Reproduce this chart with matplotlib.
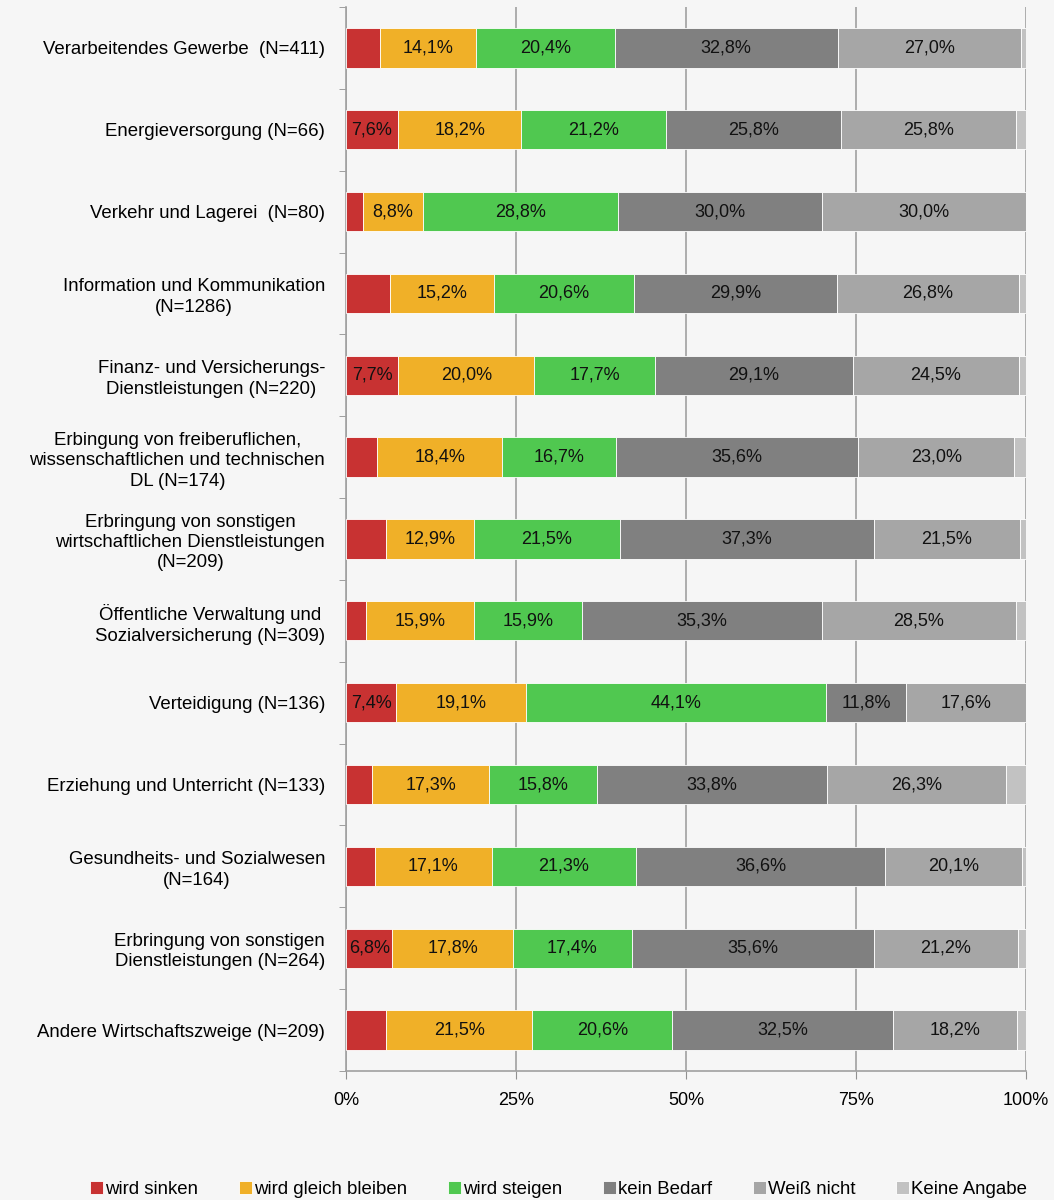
import numpy as np
import matplotlib
matplotlib.use('Agg')
from matplotlib import pyplot as plt
from matplotlib.ticker import FixedLocator

plt.rcParams['font.family'] = ['Liberation Sans', 'DejaVu Sans']

categories = [
    'Verarbeitendes Gewerbe  (N=411)',
    'Energieversorgung (N=66)',
    'Verkehr und Lagerei  (N=80)',
    'Information und Kommunikation\n(N=1286)',
    'Finanz- und Versicherungs-\nDienstleistungen (N=220)',
    'Erbingung von freiberuflichen,\nwissenschaftlichen und technischen\nDL (N=174)',
    'Erbringung von sonstigen\nwirtschaftlichen Dienstleistungen\n(N=209)',
    'Öffentliche Verwaltung und\nSozialversicherung (N=309)',
    'Verteidigung (N=136)',
    'Erziehung und Unterricht (N=133)',
    'Gesundheits- und Sozialwesen\n(N=164)',
    'Erbringung von sonstigen\nDienstleistungen (N=264)',
    'Andere Wirtschaftszweige (N=209)',
]

series = ['wird sinken', 'wird gleich bleiben', 'wird steigen',
          'kein Bedarf', 'Weiß nicht', 'Keine Angabe']

wird_sinken = [5.0, 7.6, 2.5, 6.5, 7.7, 4.6, 5.9, 2.9, 7.4, 3.8, 4.3, 6.8, 5.9]
gleich_bleiben = [14.1, 18.2, 8.8, 15.2, 20.0, 18.4, 12.9, 15.9, 19.1, 17.3, 17.1, 17.8, 21.5]
wird_steigen = [20.4, 21.2, 28.8, 20.6, 17.7, 16.7, 21.5, 15.9, 44.1, 15.8, 21.3, 17.4, 20.6]
kein_bedarf = [32.8, 25.8, 30.0, 29.9, 29.1, 35.6, 37.3, 35.3, 11.8, 33.8, 36.6, 35.6, 32.5]
weiss_nicht = [27.0, 25.8, 30.0, 26.8, 24.5, 23.0, 21.5, 28.5, 17.6, 26.3, 20.1, 21.2, 18.2]
keine_angabe = [0.7, 1.4, 0.0, 1.0, 1.0, 1.7, 0.9, 1.5, 0.0, 3.0, 0.6, 1.2, 1.3]

colours = ['#c83232', '#f0b028', '#50c850', '#808080', '#a6a6a6', '#c2c2c2']

data = np.array([wird_sinken, gleich_bleiben, wird_steigen,
                 kein_bedarf, weiss_nicht, keine_angabe])
# normalise so each bar fills 100%
data = data / data.sum(axis=0) * 100

fig = plt.figure(figsize=(10.54, 12), dpi=100)
fig.patch.set_facecolor('#f6f6f6')
ax = fig.add_axes([0.3283, 0.1075, 0.6451, 0.8867])
ax.set_facecolor('#f6f6f6')

n = len(categories)
y = np.arange(n)
left = np.zeros(n)
for i, name in enumerate(series):
    vals = data[i]
    ax.barh(y, vals, left=left, height=0.48, color=colours[i],
            edgecolor='white', linewidth=0.6, label=name, zorder=3)
    if i < 5:
        for j in range(n):
            # small segments carry no label in the original
            if vals[j] >= 6.6:
                ax.text(left[j] + vals[j] / 2, y[j],
                        ('%.1f%%' % vals[j]).replace('.', ','),
                        ha='center', va='center', fontsize=13,
                        color='#111111', zorder=4)
    left += vals

ax.set_xlim(0, 100)
ax.set_ylim(n - 0.5, -0.5)
ax.set_xticks([0, 25, 50, 75, 100])
ax.set_xticklabels(['0%', '25%', '50%', '75%', '100%'], fontsize=13)
ax.set_yticks(y)
ax.set_yticklabels(categories, fontsize=13.4, multialignment='center',
                   linespacing=1.25)
ax.yaxis.set_minor_locator(FixedLocator(np.arange(n + 1) - 0.5))
ax.tick_params(axis='y', which='major', length=0, pad=15)
ax.tick_params(axis='y', which='minor', length=5, color='#909090')
ax.tick_params(axis='x', length=6, color='#909090', pad=9)
ax.grid(axis='x', color='#a0a0a0', linewidth=1.2, zorder=0)

for s in ['top', 'right']:
    ax.spines[s].set_visible(False)
ax.spines['left'].set_color('#a0a0a0')
ax.spines['bottom'].set_color('#a0a0a0')
ax.spines['left'].set_linewidth(1.2)
ax.spines['bottom'].set_linewidth(1.2)

fig.legend(loc='lower center', bbox_to_anchor=(0.53, -0.012), ncol=6,
           frameon=False, fontsize=13.4, handlelength=0.7, handleheight=0.7,
           handletextpad=0.1, columnspacing=2.2)

fig.savefig('out.png', dpi=100, facecolor=fig.get_facecolor())
